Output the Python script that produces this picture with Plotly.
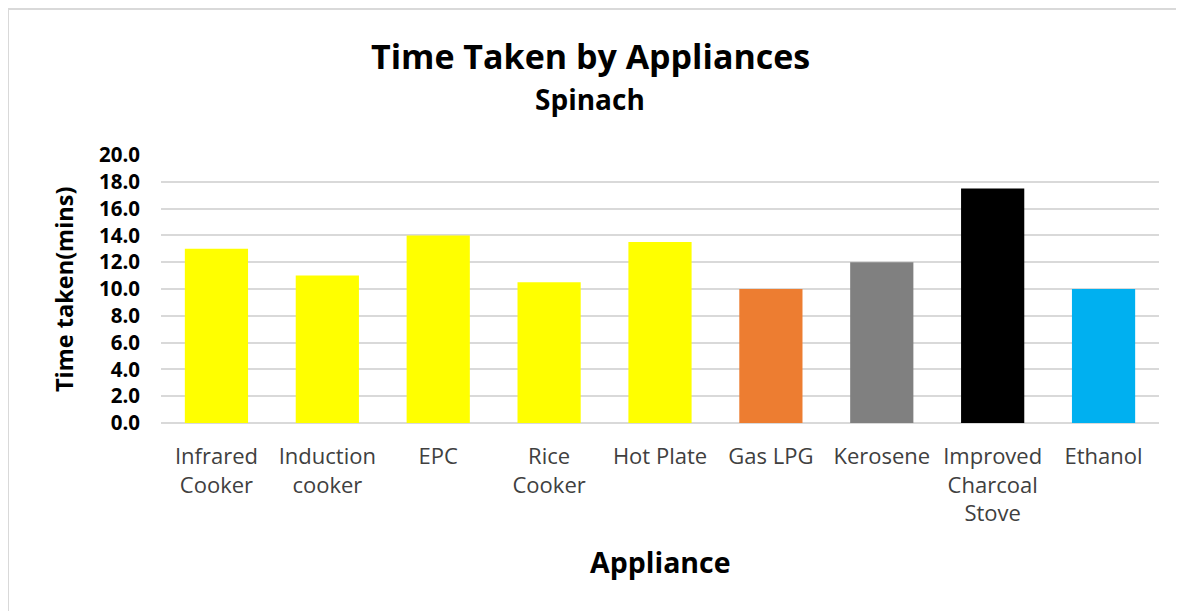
import plotly.graph_objects as go

categories = ["Infrared<br>Cooker", "Induction<br>cooker", "EPC", "Rice<br>Cooker", "Hot Plate",
              "Gas LPG", "Kerosene", "Improved<br>Charcoal<br>Stove", "Ethanol"]
values = [13.0, 11.0, 14.0, 10.5, 13.5, 10.0, 12.0, 17.5, 10.0]
colors = ["#FFFF00", "#FFFF00", "#FFFF00", "#FFFF00", "#FFFF00",
          "#ED7D31", "#808080", "#000000", "#00B0F0"]
y_ticks = [0, 2, 4, 6, 8, 10, 12, 14, 16, 18, 20]
y_tick_labels = [f"{v:.1f}" for v in y_ticks]

# figure is drawn with an 8px page margin, so sizes are in figure pixels
W, H = 1176, 603
L, R, T, B = 153, 25, 147, 188
PW, PH = W - L - R, H - T - B


def px(xf):
    return (xf - L) / PW


def py(yf):
    return (H - B - yf) / PH


font = "'Open Sans', sans-serif"

fig = go.Figure(go.Bar(
    x=categories, y=values,
    marker=dict(color=colors, line=dict(width=0)),
))

fig.update_layout(
    width=W, height=H,
    margin=dict(l=L, r=R, t=T, b=B),
    paper_bgcolor="white", plot_bgcolor="white",
    bargap=0.43,
    showlegend=False,
    font=dict(family=font),
    xaxis=dict(
        tickfont=dict(family=font, size=22, color="#404040"),
        showgrid=False, showline=False, ticks="",
        ticklabelstandoff=18,
    ),
    yaxis=dict(
        range=[0, 20], tickvals=y_ticks, ticktext=y_tick_labels,
        tickfont=dict(family=font, size=20.5, color="black", weight="bold"),
        showgrid=True, gridcolor="#D9D9D9", gridwidth=2,
        zeroline=True, zerolinecolor="#D9D9D9", zerolinewidth=2,
        showline=False, ticks="", ticklabelstandoff=20,
    ),
    annotations=[
        dict(text="<b>Time Taken by Appliances</b>", xref="paper", yref="paper",
             x=px(582), y=py(48), xanchor="center", yanchor="middle", showarrow=False,
             font=dict(family=font, size=34, color="black")),
        dict(text="<b>Spinach</b>", xref="paper", yref="paper",
             x=px(582), y=py(91), xanchor="center", yanchor="middle", showarrow=False,
             font=dict(family=font, size=28, color="black")),
        dict(text="<b>Appliance</b>", xref="paper", yref="paper",
             x=px(652), y=py(554), xanchor="center", yanchor="middle", showarrow=False,
             font=dict(family=font, size=28.5, color="black")),
        dict(text="<b>Time taken(mins)</b>", xref="paper", yref="paper", textangle=-90,
             x=px(56), y=py(282), xanchor="center", yanchor="middle", showarrow=False,
             font=dict(family=font, size=23.5, color="black")),
    ],
    shapes=[
        dict(type="line", xref="paper", yref="paper",
             x0=px(0), x1=px(0), y0=py(1), y1=py(H + 20),
             line=dict(color="#D9D9D9", width=2)),
        dict(type="line", xref="paper", yref="paper",
             x0=px(0), x1=px(W + 20), y0=py(1), y1=py(1),
             line=dict(color="#D9D9D9", width=2)),
    ],
)

fig.write_html("out.html")
